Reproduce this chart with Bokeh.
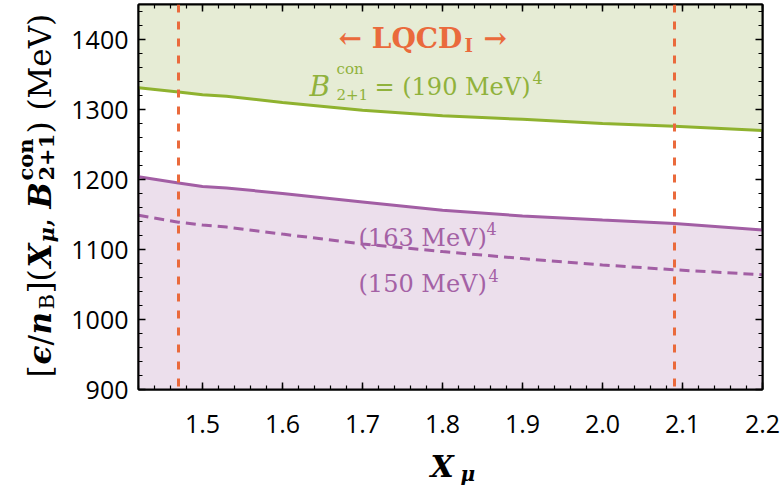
import math
from bokeh.plotting import figure
from bokeh.layouts import row, column
from bokeh.models import (Range1d, LinearAxis, FixedTicker, PrintfTickFormatter,
                          Span, Label)
from bokeh.core.properties import value
from bokeh.embed import file_html
from bokeh.resources import INLINE

# ---------------- data ----------------
X_MU = [1.42, 1.47, 1.50, 1.53, 1.60, 1.70, 1.80, 1.90, 2.00, 2.09, 2.20]
B190 = [1331, 1325, 1321, 1319, 1310, 1299, 1291, 1286, 1280, 1276, 1270]
B163 = [1204, 1195, 1190, 1188, 1180, 1168, 1156, 1148, 1142, 1137, 1128]
B150 = [1149, 1139, 1135, 1132, 1122, 1108, 1097, 1087, 1078, 1071, 1064]
LQCD_BOUNDS = [1.47, 2.09]

X_RANGE = (1.42, 2.2)
Y_RANGE = (900, 1450)
X_TICKS = [1.5, 1.6, 1.7, 1.8, 1.9, 2.0, 2.1, 2.2]
X_TICK_LABELS = ["1.5", "1.6", "1.7", "1.8", "1.9", "2.0", "2.1", "2.2"]
Y_TICKS = [900, 1000, 1100, 1200, 1300, 1400]
X_MINOR = [round(1.42 + 0.02 * i, 2) for i in range(40)]
Y_MINOR = [900 + 20 * i for i in range(28)]

ORANGE = "#ea6a3c"
GREEN = "#8fb22f"
GREEN_TXT = "#90b23c"
GREEN_FILL = "#e6ecd5"
PURPLE = "#a25ea4"
PURPLE_TXT = "#a461a5"
PURPLE_FILL = "#ecdfec"

# ---------------- layout geometry (page pixels) ----------------
W_YLAB = 60                 # left strip holding the rotated y title
FW, FH = 624, 385           # plot frame
ML, MT, MR, MB = 78, 4, 20, 16
MAIN_W = ML + FW + MR
MAIN_H = MT + FH + MB
XSTRIP_H = 80
FRAME_LEFT = W_YLAB + ML    # 138
FRAME_TOP = MT              # 4
FRAME_BOTTOM = MT + FH      # 389
PX_PER_X = FW / (X_RANGE[1] - X_RANGE[0])

# ---------------- main figure ----------------
p = figure(frame_width=FW, frame_height=FH, min_border_left=ML, min_border_top=MT,
           min_border_right=MR, min_border_bottom=MB,
           x_range=Range1d(*X_RANGE), y_range=Range1d(*Y_RANGE),
           output_backend="svg", toolbar_location=None,
           x_axis_location=None, y_axis_location=None)
p.background_fill_color = "white"
p.border_fill_color = "white"
p.outline_line_color = "black"
p.outline_line_width = 2
p.xgrid.visible = False
p.ygrid.visible = False


def xpx(px):
    return X_RANGE[0] + (px - FRAME_LEFT) / PX_PER_X


def ypx(py):
    return Y_RANGE[1] - (py - FRAME_TOP) * (Y_RANGE[1] - Y_RANGE[0]) / FH


# fills
p.varea(x=X_MU, y1=B190, y2=Y_RANGE[1], fill_color=GREEN_FILL)
p.varea(x=X_MU, y1=Y_RANGE[0], y2=B163, fill_color=PURPLE_FILL)

# curves
p.line(X_MU, B190, line_color=GREEN, line_width=3)
p.line(X_MU, B163, line_color=PURPLE, line_width=3)
p.line(X_MU, B150, line_color=PURPLE, line_width=3, line_dash="10 6")

for xb in LQCD_BOUNDS:
    p.add_layout(Span(location=xb, dimension="height", line_color=ORANGE,
                      line_width=3, line_dash="8 9"))


def style_axis(ax, labels=True):
    ax.axis_line_color = "black"
    ax.axis_line_width = 2
    ax.major_tick_in = 7
    ax.major_tick_out = 0
    ax.minor_tick_in = 4
    ax.minor_tick_out = 0
    ax.major_tick_line_width = 1.5
    ax.minor_tick_line_width = 1.2
    ax.major_tick_line_color = "black"
    ax.minor_tick_line_color = "black"
    if labels:
        ax.major_label_text_font = "Open Sans"
        ax.major_label_text_font_size = "25px"
        ax.major_label_text_color = "black"
    else:
        ax.major_label_text_font_size = "1px"
        ax.major_label_text_color = None
        ax.major_label_standoff = 0


xt = FixedTicker(ticks=X_TICKS, minor_ticks=X_MINOR)
yt = FixedTicker(ticks=Y_TICKS, minor_ticks=Y_MINOR)

yl_ax = LinearAxis(ticker=yt, formatter=PrintfTickFormatter(format="%d"))
style_axis(yl_ax)
yl_ax.major_label_standoff = 10
p.add_layout(yl_ax, "left")

for place, tk in (("below", xt), ("above", xt), ("right", yt)):
    ax = LinearAxis(ticker=tk)
    style_axis(ax, labels=False)
    p.add_layout(ax, place)


def lab(text, px, py, size, color, style="normal", font="DejaVu Serif"):
    p.add_layout(Label(x=xpx(px), y=ypx(py), text=text, text_font=font,
                       text_font_size=f"{size}px", text_font_style=style,
                       text_color=color, text_align="left",
                       text_baseline="alphabetic"))


# ← LQCD_I →
lab("\u2190 LQCD", 338, 38, 28, ORANGE, "bold")
lab("I", 464, 45, 18, ORANGE, "bold")
lab("\u2192", 483, 38, 28, ORANGE, "bold")

# B^con_{2+1} = (190 MeV)^4
lab("B", 309, 86, 28, GREEN_TXT, "italic")
lab("con", 336, 68, 15, GREEN_TXT)
lab("2+1", 336, 94, 15, GREEN_TXT)
lab("= (190 MeV)", 374, 86, 24, GREEN_TXT)
lab("4", 532, 77, 16, GREEN_TXT)

# (163 MeV)^4, (150 MeV)^4
lab("(163 MeV)", 358, 237, 24, PURPLE_TXT)
lab("4", 486, 228, 16, PURPLE_TXT)
lab("(150 MeV)", 358, 283, 24, PURPLE_TXT)
lab("4", 488, 275, 16, PURPLE_TXT)


# ---------------- helper strips for the axis titles ----------------
def strip(w, h, xr, yr):
    f = figure(width=w, height=h, x_range=xr, y_range=yr,
               output_backend="svg", toolbar_location=None,
               x_axis_location=None, y_axis_location=None,
               min_border_left=0, min_border_right=0,
               min_border_top=0, min_border_bottom=0)
    f.outline_line_color = None
    f.xgrid.visible = False
    f.ygrid.visible = False
    f.background_fill_color = "white"
    f.border_fill_color = "white"
    return f


def piece(f, text, x, y, size, style="normal", angle=0.0, color="black",
          font="DejaVu Serif", align="left"):
    f.text(x=[x], y=[y], text=[text], text_font=value(font),
           text_font_size=value(f"{size}px"), text_font_style=style,
           text_color=color, text_align=align, text_baseline="alphabetic",
           angle=angle)


# y title strip: its frame is aligned with the main frame (page y 4..389)
ylab = strip(W_YLAB, MAIN_H, Range1d(0, W_YLAB), Range1d(FRAME_BOTTOM, FRAME_TOP))
R = math.pi / 2
BX = 39
BIG, SMALL = 31, 21
piece(ylab, "[", BX, 377, BIG, angle=R)
piece(ylab, "\u03f5", BX, 364, BIG, "bold italic", angle=R)
piece(ylab, "/", BX, 345, BIG, angle=R)
piece(ylab, "n", BX, 334, BIG, "bold italic", angle=R)
piece(ylab, "B", BX + 7, 309, SMALL, angle=R)
piece(ylab, "](", BX, 293, BIG, angle=R)
piece(ylab, "X", BX, 267, BIG, "bold italic", angle=R)
piece(ylab, "\u03bc", BX + 7, 242, SMALL, "bold italic", angle=R)
piece(ylab, ",", BX, 227, BIG, angle=R)
piece(ylab, "B", BX, 208, BIG, "bold italic", angle=R)
piece(ylab, "con", BX - 14, 180, SMALL, "bold", angle=R)
piece(ylab, "2+1", BX + 7, 180, SMALL, "bold", angle=R)
piece(ylab, ")", BX, 133, BIG, angle=R)
piece(ylab, "(MeV)", BX, 110, BIG, angle=R)

# bottom strip: x tick labels and x title; x in data units, y in page pixels
W_ALL = W_YLAB + MAIN_W
xs = strip(W_ALL, XSTRIP_H,
           Range1d(xpx(0), xpx(W_ALL)),
           Range1d(MAIN_H + XSTRIP_H, MAIN_H))
xs.text(x=X_TICKS, y=[423] * len(X_TICKS), text=X_TICK_LABELS,
        text_font=value("Open Sans"), text_font_size=value("25px"),
        text_color="black", text_align="center", text_baseline="alphabetic")
piece(xs, "X", xpx(430), 466, 30, "bold italic")
piece(xs, "\u03bc", xpx(460), 473, 20, "bold italic")

layout = column(row(ylab, p, spacing=0), xs, spacing=0)
open("out.html", "w").write(file_html(layout, INLINE))
